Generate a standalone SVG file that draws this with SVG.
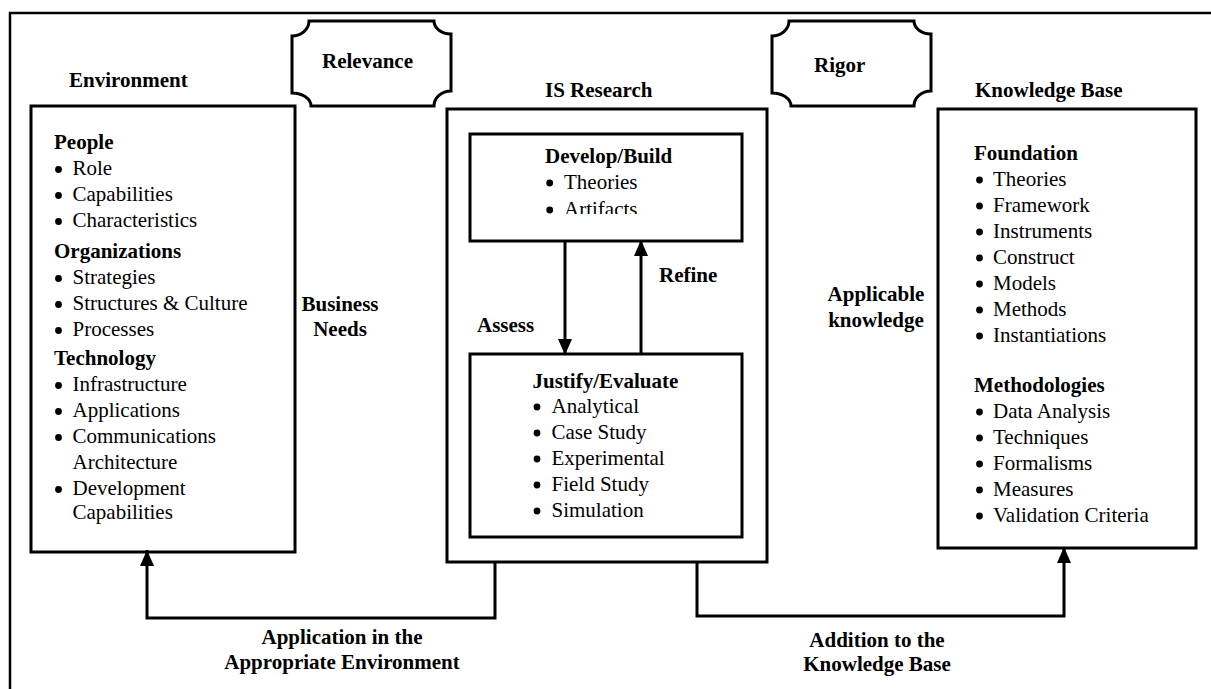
<svg xmlns="http://www.w3.org/2000/svg" width="1211" height="689" viewBox="0 0 1211 689">
<style>
text{font-family:"Liberation Serif","Times New Roman",serif;font-size:21px;fill:#000}
.b{font-weight:bold}
.m{text-anchor:middle}
.box{fill:none;stroke:#000;stroke-width:3}
.plaque{fill:#fff;stroke:#000;stroke-width:3}
.con{fill:none;stroke:#000;stroke-width:3}
.dot{fill:#000}
</style>
<defs>
<marker id="ah" viewBox="0 0 16 14" refX="16" refY="7" markerWidth="16" markerHeight="14" markerUnits="userSpaceOnUse" orient="auto">
<path d="M0,0 L16,7 L0,14 Z" fill="#000"/>
</marker>
<clipPath id="clipA"><rect x="470" y="195" width="272" height="19"/></clipPath>
</defs>
<rect width="1211" height="689" fill="#fff"/>
<g id="frame">
<path d="M10,689 L10,13 L1211,13" fill="none" stroke="#000" stroke-width="2.5"/>
</g>
<g id="relevance">
<path class="plaque" d="M309,21 L434,21 A17,13 0 0 0 451,34 L451,91 A17,15 0 0 0 434,106 L311,106 A19,13 0 0 0 292,93 L292,36 A17,15 0 0 0 309,21 Z"/>
<text class="b" x="322" y="68">Relevance</text>
</g>
<g id="rigor">
<path class="plaque" d="M789,21 L914,21 A17,13 0 0 0 931,34 L931,91 A17,15 0 0 0 914,106 L791,106 A19,13 0 0 0 772,93 L772,36 A17,15 0 0 0 789,21 Z"/>
<text class="b" x="814" y="72">Rigor</text>
</g>
<g id="environment">
<text class="b" x="69" y="87">Environment</text>
<rect class="box" x="31" y="106" width="264" height="446"/>
<text class="b" x="54" y="149">People</text>
<circle class="dot" cx="58.5" cy="169.5" r="3.4"/><text x="72.5" y="175">Role</text>
<circle class="dot" cx="58.5" cy="195.5" r="3.4"/><text x="72.5" y="201">Capabilities</text>
<circle class="dot" cx="58.5" cy="221.5" r="3.4"/><text x="72.5" y="227">Characteristics</text>
<text class="b" x="54" y="258">Organizations</text>
<circle class="dot" cx="58.5" cy="278.5" r="3.4"/><text x="72.5" y="284">Strategies</text>
<circle class="dot" cx="58.5" cy="304.5" r="3.4"/><text x="72.5" y="310">Structures &amp; Culture</text>
<circle class="dot" cx="58.5" cy="330.5" r="3.4"/><text x="72.5" y="336">Processes</text>
<text class="b" x="54" y="365">Technology</text>
<circle class="dot" cx="58.5" cy="385.5" r="3.4"/><text x="72.5" y="391">Infrastructure</text>
<circle class="dot" cx="58.5" cy="411.5" r="3.4"/><text x="72.5" y="417">Applications</text>
<circle class="dot" cx="58.5" cy="437.5" r="3.4"/><text x="72.5" y="443">Communications</text>
<text x="72.5" y="469">Architecture</text>
<circle class="dot" cx="58.5" cy="489.5" r="3.4"/><text x="72.5" y="495">Development</text>
<text x="72.5" y="519">Capabilities</text>
</g>
<g id="is-research">
<text class="b" x="545" y="97">IS Research</text>
<rect class="box" x="447" y="109" width="320" height="453"/>
</g>
<g id="develop-build">
<rect class="box" x="470" y="134" width="272" height="107"/>
<text class="b" x="545" y="163">Develop/Build</text>
<circle class="dot" cx="549.7" cy="183" r="3.4"/><text x="564" y="189">Theories</text>
<g clip-path="url(#clipA)">
<circle class="dot" cx="549.7" cy="210" r="3.4"/><text x="564" y="216">Artifacts</text>
</g>
</g>
<g id="justify-evaluate">
<rect class="box" x="470" y="354" width="272" height="183"/>
<text class="b" x="532.5" y="388">Justify/Evaluate</text>
<circle class="dot" cx="537" cy="407" r="3.4"/><text x="551.5" y="413">Analytical</text>
<circle class="dot" cx="537" cy="433" r="3.4"/><text x="551.5" y="439">Case Study</text>
<circle class="dot" cx="537" cy="459" r="3.4"/><text x="551.5" y="465">Experimental</text>
<circle class="dot" cx="537" cy="485" r="3.4"/><text x="551.5" y="491">Field Study</text>
<circle class="dot" cx="537" cy="511" r="3.4"/><text x="551.5" y="517">Simulation</text>
</g>
<g id="knowledge-base">
<text class="b" x="975" y="97">Knowledge Base</text>
<rect class="box" x="938" y="109" width="258" height="439"/>
<text class="b" x="974" y="160">Foundation</text>
<circle class="dot" cx="979.5" cy="180" r="3.4"/><text x="993" y="186">Theories</text>
<circle class="dot" cx="979.5" cy="206" r="3.4"/><text x="993" y="212">Framework</text>
<circle class="dot" cx="979.5" cy="232" r="3.4"/><text x="993" y="238">Instruments</text>
<circle class="dot" cx="979.5" cy="258" r="3.4"/><text x="993" y="264">Construct</text>
<circle class="dot" cx="979.5" cy="284" r="3.4"/><text x="993" y="290">Models</text>
<circle class="dot" cx="979.5" cy="310" r="3.4"/><text x="993" y="316">Methods</text>
<circle class="dot" cx="979.5" cy="336" r="3.4"/><text x="993" y="342">Instantiations</text>
<text class="b" x="974" y="392">Methodologies</text>
<circle class="dot" cx="979.5" cy="412" r="3.4"/><text x="993" y="418">Data Analysis</text>
<circle class="dot" cx="979.5" cy="438" r="3.4"/><text x="993" y="444">Techniques</text>
<circle class="dot" cx="979.5" cy="464" r="3.4"/><text x="993" y="470">Formalisms</text>
<circle class="dot" cx="979.5" cy="490" r="3.4"/><text x="993" y="496">Measures</text>
<circle class="dot" cx="979.5" cy="516" r="3.4"/><text x="993" y="522">Validation Criteria</text>
</g>
<g id="connectors">
<path class="con" d="M565,241 L565,355" marker-end="url(#ah)"/>
<path class="con" d="M641,354 L641,240" marker-end="url(#ah)"/>
<path class="con" d="M495,562 L495,618 L147,618 L147,550" marker-end="url(#ah)"/>
<path class="con" d="M697,562 L697,616 L1064,616 L1064,547" marker-end="url(#ah)"/>
</g>
<g id="labels">
<text class="b m" x="340" y="311">Business</text>
<text class="b m" x="340" y="336">Needs</text>
<text class="b m" x="876" y="301">Applicable</text>
<text class="b m" x="876" y="327">knowledge</text>
<text class="b" x="659" y="282">Refine</text>
<text class="b" x="477" y="332">Assess</text>
<text class="b m" x="342" y="644">Application in the</text>
<text class="b m" x="342" y="669">Appropriate Environment</text>
<text class="b m" x="877" y="647">Addition to the</text>
<text class="b m" x="877" y="671">Knowledge Base</text>
</g>
</svg>
